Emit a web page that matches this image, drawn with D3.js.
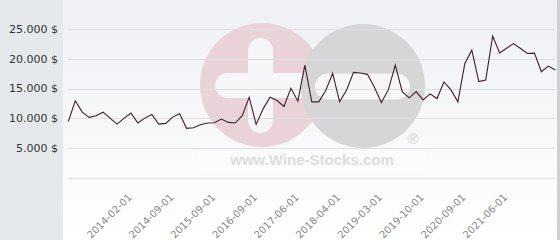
<!DOCTYPE html>
<html>
<head>
<meta charset="utf-8">
<script src="https://cdn.jsdelivr.net/npm/d3@7"></script>
<style>
    html, body { margin: 0; padding: 0; background: #ffffff; }
    svg { display: block; }
</style>
</head>
<body>
<script>
const prices = [
    9450, 12950, 11050, 10170, 10450, 11050, 10050, 9050, 10000, 10890,
    9220, 10050, 10670, 9050, 9170, 10220, 10780, 8330, 8440, 8940,
    9220, 9280, 9890, 9330, 9220, 10450, 13550, 9000, 11600, 13550,
    13000, 12000, 15050, 12890, 18950, 12780, 12780, 14670, 17550, 12780,
    14780, 17720, 17610, 17390, 15220, 12670, 14780, 18950, 14500, 13450,
    14500, 13110, 14110, 13330, 16110, 14780, 12780, 19220, 21450, 16170,
    16450, 23830, 21000, 21780, 22550, 21720, 20890, 20950, 17830, 18780,
    18110
];

const dateLabels = [
    "2014-02-01", "2014-09-01", "2015-09-01", "2016-09-01", "2017-06-01",
    "2018-04-01", "2019-03-01", "2019-10-01", "2020-09-01", "2021-06-01"
];

const yTicks = [5000, 10000, 15000, 20000, 25000];

let chart = (function () {
    let svg = {};
    let x, y;

    // a label on every 6th auction, starting at the 10th one
    const firstLabel = 9;
    const labelStep = 6;

    const locale = d3.formatLocale({
        decimal: ",",
        thousands: ".",
        grouping: [3],
        currency: ["", " $"]
    });
    const fmt = locale.format("$,.0f");

    function init() {
        svg = d3.select("body").append("svg")
            .attr("width", 560)
            .attr("height", 240);

        let defs = svg.append("defs");
        let grad = defs.append("linearGradient")
            .attr("id", "bg")
            .attr("x1", 0).attr("y1", 0)
            .attr("x2", 0).attr("y2", 1);
        grad.append("stop").attr("offset", "0%").attr("stop-color", "#eff0f5");
        grad.append("stop").attr("offset", "100%").attr("stop-color", "#ffffff");

        svg.append("rect")
            .attr("x", 0).attr("y", 0)
            .attr("width", 560).attr("height", 240)
            .style("fill", "url(#bg)");

        svg.append("rect")
            .attr("x", 0).attr("y", 0)
            .attr("width", 63).attr("height", 240)
            .style("fill", "#e6e9ec");

        svg.append("rect")
            .attr("x", 557).attr("y", 0)
            .attr("width", 3).attr("height", 240)
            .style("fill", "#cfd0d3");

        x = d3.scalePoint()
            .domain(d3.range(prices.length))
            .range([68.3, 555.3]);

        y = d3.scaleLinear()
            .domain([0, 25000])
            .range([178, 29]);
    }

    function drawWatermark() {
        let wm = svg.append("g").attr("class", "watermark");

        wm.append("circle")
            .attr("cx", 262).attr("cy", 85).attr("r", 62)
            .style("fill", "#e9d2d8");
        wm.append("rect")
            .attr("x", 215).attr("y", 73)
            .attr("width", 100).attr("height", 25).attr("rx", 12.5)
            .style("fill", "#f6f6f9");
        wm.append("rect")
            .attr("x", 248).attr("y", 38)
            .attr("width", 25).attr("height", 95).attr("rx", 12.5)
            .style("fill", "#f6f6f9");

        wm.append("circle")
            .attr("cx", 363).attr("cy", 86).attr("r", 62)
            .style("fill", "#d6d6d8");
        wm.append("rect")
            .attr("x", 315).attr("y", 73.5)
            .attr("width", 95).attr("height", 26).attr("rx", 13)
            .style("fill", "#f6f6f9");

        wm.append("text")
            .attr("x", 413).attr("y", 144)
            .attr("text-anchor", "middle")
            .style("font-family", "Liberation Sans, Arial, sans-serif")
            .style("font-size", "15px")
            .style("fill", "#d2d2d4")
            .text("®");

        wm.append("rect")
            .attr("x", 197).attr("y", 150)
            .attr("width", 230).attr("height", 24)
            .style("fill", "#ffffff")
            .style("opacity", 0.4);

        wm.append("text")
            .attr("x", 312).attr("y", 165)
            .attr("text-anchor", "middle")
            .style("font-family", "Liberation Sans, Arial, sans-serif")
            .style("font-weight", "bold")
            .style("font-size", "15px")
            .style("fill", "#dcdcde")
            .text("www.Wine-Stocks.com");
    }

    function drawAxes() {
        svg.append("g")
            .selectAll("line")
            .data([0].concat(yTicks))
            .enter()
            .append("line")
            .attr("x1", 68)
            .attr("x2", 555)
            .attr("y1", d => Math.round(y(d)) + 0.5)
            .attr("y2", d => Math.round(y(d)) + 0.5)
            .style("stroke", "#dedfe2")
            .style("stroke-width", 1);

        svg.append("g")
            .selectAll("text")
            .data(yTicks)
            .enter()
            .append("text")
            .attr("x", 58)
            .attr("y", d => y(d))
            .attr("dy", "0.35em")
            .attr("text-anchor", "end")
            .style("font-family", "DejaVu Sans, sans-serif")
            .style("font-size", "11px")
            .style("fill", "#333333")
            .text(d => fmt(d));

        svg.append("g")
            .selectAll("text")
            .data(dateLabels)
            .enter()
            .append("text")
            .attr("transform", function (d, i) {
                let px = x(firstLabel + i * labelStep) + 1.5;
                return "translate(" + px + ",198) rotate(-45)";
            })
            .attr("text-anchor", "end")
            .style("font-family", "DejaVu Sans, sans-serif")
            .style("font-size", "10px")
            .style("fill", "#888888")
            .text(d => d);
    }

    function drawLine() {
        let line = d3.line()
            .x((d, i) => x(i))
            .y(d => y(d));

        svg.append("path")
            .datum(prices)
            .attr("d", line)
            .style("fill", "none")
            .style("stroke", "#3d1f2e")
            .style("stroke-width", 1.1)
            .style("stroke-linejoin", "miter");
    }

    return {
        init: init,
        draw: function () {
            drawWatermark();
            drawAxes();
            drawLine();
        }
    }
})();

chart.init();
chart.draw();
</script>
</body>
</html>
